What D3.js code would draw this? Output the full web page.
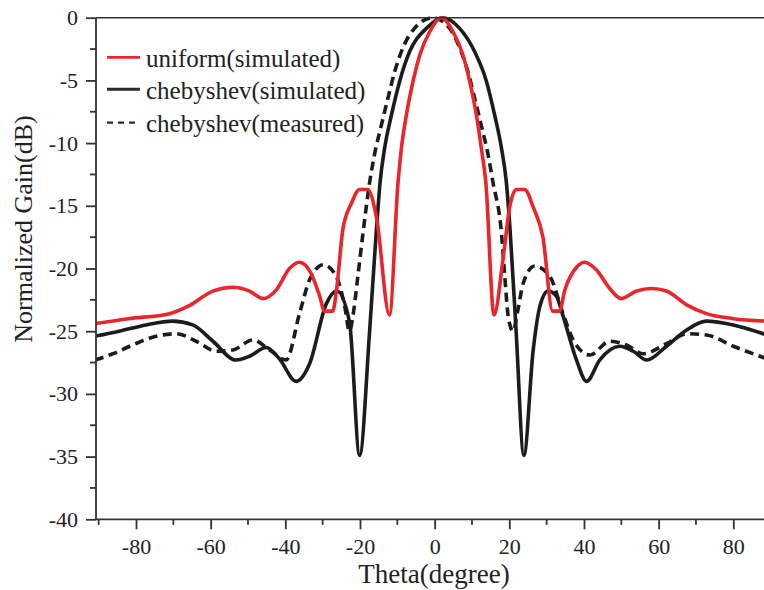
<!DOCTYPE html>
<html>
<head>
<meta charset="utf-8">
<script src="https://cdn.jsdelivr.net/npm/d3@7"></script>
<style>
  html, body { margin: 0; padding: 0; background: #fff; }
  svg { display: block; }
  text { font-family: "Liberation Serif", "Times New Roman", serif; fill: #222; }
</style>
</head>
<body>
<svg id="chart" width="764" height="590"></svg>
<script>
// ---- data ----
const xTicks = [-80, -60, -40, -20, 0, 20, 40, 60, 80];
const yTicks = [0, -5, -10, -15, -20, -25, -30, -35, -40];
const seriesNames = ["uniform(simulated)", "chebyshev(simulated)", "chebyshev(measured)"];

const uniformTheta = [-91, -82, -71, -66, -59.4, -54.1, -49.6, -46, -42.4, -38.9, -36.2, -33.1, -30.8, -29.5, -27.3, -26.2, -24.6, -22.3, -20.1, -17.9, -15.6, -12.1, -9.8, -8.9, -7.6, -5.8, -4.0, -1.3, 1.8, 4.9, 7.6, 9.4, 11.2, 12.5, 13.7, 15.9, 18.3, 20.1, 21.9, 24.1, 26.4, 29.0, 31.6, 33.4, 34.9, 38.0, 40.2, 43.3, 46.9, 50, 54.1, 58.1, 62.1, 67.5, 72.8, 80, 89];
const uniformGain = [-24.4, -24.0, -23.6, -23.0, -21.8, -21.5, -21.8, -22.4, -21.7, -20.0, -19.5, -20.4, -22.2, -23.4, -23.4, -21.5, -16.9, -14.8, -13.7, -13.7, -15.9, -23.7, -13.1, -10.4, -7.8, -5.1, -3.0, -1.1, 0, -1.1, -3.0, -5.1, -7.8, -10.4, -13.1, -23.7, -19.3, -15.1, -13.7, -13.7, -15.1, -17.5, -23.4, -23.4, -21.7, -19.9, -19.5, -20.1, -21.6, -22.4, -21.8, -21.6, -21.8, -22.9, -23.6, -24.0, -24.2];

const chebSimTheta = [-91, -84.5, -77.3, -70.2, -64.8, -59.4, -53.2, -49.6, -45.1, -41.6, -37.1, -33.5, -29.0, -26.2, -22.8, -20.1, -17.4, -15.6, -14.6, -13.4, -11.6, -9.4, -6.7, -2.2, 2.2, 6.7, 10.7, 13.9, 16.1, 17.9, 19.2, 20.2, 21.8, 23.9, 26.4, 28.2, 30.4, 32.6, 34.4, 38.0, 40.7, 44.2, 49.6, 53.2, 56.8, 62.1, 67.5, 72.8, 80, 89];
const chebSimGain = [-25.4, -25.0, -24.5, -24.2, -24.5, -25.8, -27.3, -27.0, -26.3, -27.2, -29.0, -27.6, -22.8, -21.8, -24.3, -34.9, -24.9, -16.9, -13.1, -10.4, -7.8, -5.1, -2.7, -0.85, 0, -0.85, -2.7, -5.1, -7.8, -10.4, -13.1, -16.9, -24.9, -34.9, -26.5, -23.0, -21.8, -22.2, -23.8, -27.3, -29.0, -27.3, -26.2, -26.6, -27.3, -26.2, -24.9, -24.2, -24.5, -25.3];

const chebMeasTheta = [-91, -86.2, -80.9, -74.6, -69.2, -63.9, -58.5, -54.1, -48.7, -44.2, -39.8, -36.2, -33.5, -29.8, -26.4, -24.1, -22.8, -21.9, -20.6, -19.2, -17.4, -16.1, -14.3, -12.5, -10.7, -8.5, -5.4, -0.5, 4.0, 6.7, 8.9, 10.7, 12.5, 14.3, 15.6, 17.9, 18.8, 19.7, 21.0, 22.3, 23.7, 26.8, 30.8, 34.4, 37.1, 41.6, 46.9, 51.4, 55.8, 62.1, 67.5, 72.8, 80, 89];
const chebMeasGain = [-27.3, -26.8, -26.1, -25.4, -25.2, -25.8, -26.6, -26.5, -25.7, -26.5, -27.3, -23.6, -20.9, -19.7, -20.6, -23.0, -25.0, -23.8, -20.7, -17.2, -13.1, -10.9, -8.6, -6.4, -4.3, -2.4, -0.85, 0, -0.85, -2.4, -4.3, -6.4, -8.6, -10.9, -13.1, -17.2, -20.7, -23.8, -25.0, -23.3, -21.2, -19.8, -20.6, -23.6, -25.7, -26.9, -25.8, -26.1, -26.8, -26.0, -25.2, -25.3, -26.2, -27.2];

// ---- layout ----
const svg = d3.select("#chart");
const plotLeft = 96, plotRight = 764, plotTop = 17.7, plotBottom = 519.3;

const x = d3.scaleLinear().domain([-80, 80]).range([136, 733.3]);
const y = d3.scaleLinear().domain([-40, 0]).range([plotBottom, plotTop]);

const axisColor = "#333";

// clip
svg.append("defs").append("clipPath").attr("id", "clip")
  .append("rect").attr("x", plotLeft).attr("y", plotTop - 5)
  .attr("width", plotRight - plotLeft).attr("height", plotBottom - plotTop + 5);

// series
const series = [
  { theta: uniformTheta, gain: uniformGain, color: "#e8262b", dash: null },
  { theta: chebSimTheta, gain: chebSimGain, color: "#1c1c1c", dash: null },
  { theta: chebMeasTheta, gain: chebMeasGain, color: "#1c1c1c", dash: "9,5.5" }
];

const line = d3.line()
  .x(d => x(d[0]))
  .y(d => y(d[1]))
  .curve(d3.curveMonotoneX);

const g = svg.append("g").attr("clip-path", "url(#clip)");
// draw order: dashed, black, red on top? Reference: red drawn first (under black)
[2, 1, 0].forEach(i => {
  const s = series[i];
  const pts = s.theta.map((t, k) => [t, s.gain[k]]);
  g.append("path")
    .attr("d", line(pts))
    .attr("fill", "none")
    .attr("stroke", s.color)
    .attr("stroke-width", 3.6)
    .attr("stroke-linejoin", "round")
    .attr("stroke-dasharray", s.dash);
});

// axes lines
svg.append("line").attr("x1", plotLeft).attr("x2", plotRight).attr("y1", plotTop).attr("y2", plotTop)
  .attr("stroke", axisColor).attr("stroke-width", 1.6);
svg.append("line").attr("x1", plotLeft).attr("x2", plotRight).attr("y1", plotBottom).attr("y2", plotBottom)
  .attr("stroke", axisColor).attr("stroke-width", 1.8);
svg.append("line").attr("x1", plotLeft).attr("x2", plotLeft).attr("y1", plotTop).attr("y2", plotBottom)
  .attr("stroke", axisColor).attr("stroke-width", 1.8);

// Y axis
const yAxis = d3.axisLeft(y).tickValues(yTicks).tickSize(10).tickPadding(8).tickFormat(d3.format("d"));
const gy = svg.append("g").attr("transform", `translate(${plotLeft},0)`).call(yAxis);
gy.select(".domain").remove();
gy.selectAll(".tick line").attr("stroke", axisColor).attr("stroke-width", 1.8);
gy.selectAll(".tick text").attr("font-size", 22).attr("font-family", "Liberation Serif, serif").attr("fill", "#222")
  .text(d => d === 0 ? "0" : "-" + Math.abs(d));
const yMinor = d3.range(-37.5, 0, 5);
svg.append("g").selectAll("line").data(yMinor).join("line")
  .attr("x1", plotLeft - 6).attr("x2", plotLeft).attr("y1", d => y(d)).attr("y2", d => y(d))
  .attr("stroke", axisColor).attr("stroke-width", 1.8);

// X axis
const xAxis = d3.axisBottom(x).tickValues(xTicks).tickSize(10).tickPadding(9).tickFormat(d => d < 0 ? "-" + Math.abs(d) : String(d));
const gx = svg.append("g").attr("transform", `translate(0,${plotBottom})`).call(xAxis);
gx.select(".domain").remove();
gx.selectAll(".tick line").attr("stroke", axisColor).attr("stroke-width", 1.8);
gx.selectAll(".tick text").attr("font-size", 22).attr("font-family", "Liberation Serif, serif").attr("fill", "#222");
const xMinor = d3.range(-90, 91, 20).filter(v => x(v) >= plotLeft && x(v) <= plotRight);
svg.append("g").selectAll("line").data(xMinor).join("line")
  .attr("x1", d => x(d)).attr("x2", d => x(d)).attr("y1", plotBottom).attr("y2", plotBottom + 5.5)
  .attr("stroke", axisColor).attr("stroke-width", 1.8);

// Axis titles
svg.append("text").attr("x", 434).attr("y", 583).attr("text-anchor", "middle")
  .attr("font-size", 27).text("Theta(degree)");
svg.append("text").attr("transform", "translate(32,229) rotate(-90)").attr("text-anchor", "middle")
  .attr("font-size", 26).text("Normalized Gain(dB)");

// Legend
const legendY = [57.3, 89.3, 122.7];
const legendStyles = [
  { color: "#e8262b", dash: null, w: 2.8 },
  { color: "#2a2a2a", dash: null, w: 3 },
  { color: "#2a2a2a", dash: "6,5", w: 2.2 }
];
const lg = svg.append("g");
seriesNames.forEach((name, i) => {
  lg.append("line").attr("x1", 107).attr("x2", 140).attr("y1", legendY[i]).attr("y2", legendY[i])
    .attr("stroke", legendStyles[i].color).attr("stroke-width", legendStyles[i].w)
    .attr("stroke-dasharray", legendStyles[i].dash);
  lg.append("text").attr("x", 146).attr("y", legendY[i] + 9.5).attr("font-size", 25).text(name);
});
</script>
</body>
</html>
